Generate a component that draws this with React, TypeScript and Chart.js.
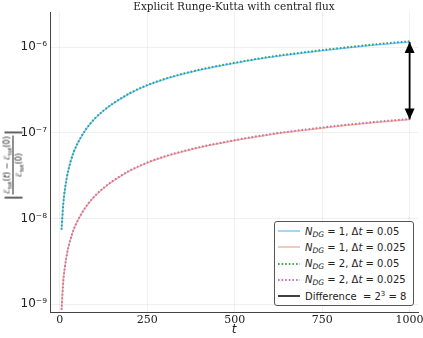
import React, { useEffect, useRef } from "react";
import { Chart, registerables } from "chart.js";

Chart.register(...registerables);

// ---- data ----
const tValues = [5, 10, 15, 20, 25, 30, 40, 50, 60, 75, 100, 125, 150, 200, 250, 300, 350, 400, 500, 600, 700, 800, 900, 1000];
const n1dt005 = [7.4e-9, 1.5e-8, 2.25e-8, 3.0e-8, 3.75e-8, 4.5e-8, 6.0e-8, 7.4e-8, 8.8e-8, 1.1e-7, 1.46e-7, 1.81e-7, 2.16e-7, 2.88e-7, 3.58e-7, 4.22e-7, 4.82e-7, 5.4e-7, 6.5e-7, 7.6e-7, 8.6e-7, 9.6e-7, 1.06e-6, 1.15e-6];
const n1dt0025 = [8.6e-10, 1.88e-9, 2.8e-9, 3.75e-9, 4.7e-9, 5.6e-9, 7.5e-9, 9.25e-9, 1.1e-8, 1.37e-8, 1.82e-8, 2.26e-8, 2.7e-8, 3.6e-8, 4.47e-8, 5.27e-8, 6.02e-8, 6.75e-8, 8.12e-8, 9.5e-8, 1.075e-7, 1.2e-7, 1.32e-7, 1.43e-7];
const n2dt005 = [7.4e-9, 1.5e-8, 2.25e-8, 3.0e-8, 3.76e-8, 4.51e-8, 6.02e-8, 7.43e-8, 8.84e-8, 1.105e-7, 1.467e-7, 1.82e-7, 2.17e-7, 2.9e-7, 3.61e-7, 4.26e-7, 4.87e-7, 5.46e-7, 6.58e-7, 7.7e-7, 8.72e-7, 9.75e-7, 1.076e-6, 1.17e-6];
const n2dt0025 = [8.6e-10, 1.88e-9, 2.8e-9, 3.76e-9, 4.71e-9, 5.62e-9, 7.52e-9, 9.28e-9, 1.105e-8, 1.38e-8, 1.83e-8, 2.28e-8, 2.72e-8, 3.63e-8, 4.51e-8, 5.32e-8, 6.08e-8, 6.82e-8, 8.22e-8, 9.62e-8, 1.09e-7, 1.217e-7, 1.34e-7, 1.45e-7];
const arrowT = [1000, 1000];
const arrowY = [1.15e-6, 1.43e-7];
const xTicks = [0, 250, 500, 750, 1000];
const yTicks = [1e-9, 1e-8, 1e-7, 1e-6];
const yTickLabels = ["10⁻⁹", "10⁻⁸", "10⁻⁷", "10⁻⁶"];

const C_BLUE = "rgba(0,154,250,0.5)";
const C_RED = "rgba(227,111,71,0.5)";
const C_GREEN = "#3ea44e";
const C_PURPLE = "#c271d2";

const pts = (ys: number[]) => tValues.map((t, i) => ({ x: t, y: ys[i] }));

const arrowPlugin = {
  id: "arrowHeads",
  afterDatasetsDraw(chart: any) {
    const meta = chart.getDatasetMeta(4);
    if (!meta || !meta.data || meta.data.length < 2) return;
    const p0 = meta.data[0];
    const p1 = meta.data[1];
    const ctx = chart.ctx;
    const hw = 5;
    const h = 11;
    ctx.save();
    ctx.fillStyle = "#000";
    ctx.beginPath();
    ctx.moveTo(p0.x, p0.y);
    ctx.lineTo(p0.x - hw, p0.y + h);
    ctx.lineTo(p0.x + hw, p0.y + h);
    ctx.closePath();
    ctx.fill();
    ctx.beginPath();
    ctx.moveTo(p1.x, p1.y);
    ctx.lineTo(p1.x - hw, p1.y - h);
    ctx.lineTo(p1.x + hw, p1.y - h);
    ctx.closePath();
    ctx.fill();
    ctx.restore();
  },
};

const Sub = ({ children, size }: { children: any; size: number }) => (
  <span style={{ fontSize: size, verticalAlign: "-0.3em", lineHeight: 0 }}>{children}</span>
);

const LegendRow = ({ color, dash, width, children }: any) => (
  <div style={{ display: "flex", alignItems: "center", height: 16.25 }}>
    <svg width={30} height={16} style={{ display: "block", flex: "none" }}>
      <line x1={3} y1={8} x2={25} y2={8} stroke={color} strokeWidth={width} strokeDasharray={dash} />
    </svg>
    <span style={{ whiteSpace: "pre" }}>{children}</span>
  </div>
);

const NLabel = ({ n, dt }: { n: string; dt: string }) => (
  <>
    <i>N</i>
    <Sub size={7.5}>
      <i>DG</i>
    </Sub>
    {" = " + n + ", Δ"}
    <i>t</i>
    {" = " + dt}
  </>
);

export default function App() {
  const ref = useRef<HTMLCanvasElement>(null);

  useEffect(() => {
    if (!ref.current) return;
    const chart = new Chart(ref.current, {
      type: "line",
      data: {
        datasets: [
          { label: "a", data: pts(n1dt005), borderColor: C_BLUE, borderWidth: 1.5, pointRadius: 0, fill: false, cubicInterpolationMode: "monotone" },
          { label: "b", data: pts(n1dt0025), borderColor: C_RED, borderWidth: 1.5, pointRadius: 0, fill: false, cubicInterpolationMode: "monotone" },
          { label: "c", data: pts(n2dt005), borderColor: C_GREEN, borderWidth: 2, borderDash: [1.6, 2], pointRadius: 0, fill: false, cubicInterpolationMode: "monotone" },
          { label: "d", data: pts(n2dt0025), borderColor: C_PURPLE, borderWidth: 2, borderDash: [1.6, 2], pointRadius: 0, fill: false, cubicInterpolationMode: "monotone" },
          { label: "e", data: arrowT.map((t, i) => ({ x: t, y: arrowY[i] })), borderColor: "#000", borderWidth: 1.8, pointRadius: 0, fill: false, clip: false as any },
        ] as any,
      },
      options: {
        animation: false,
        responsive: false,
        devicePixelRatio: 1,
        layout: { padding: { left: 0, top: 12, right: 5, bottom: 0 } },
        plugins: {
          legend: { display: false },
          title: { display: false },
          tooltip: { enabled: false },
        },
        scales: {
          x: {
            type: "linear",
            min: -28,
            max: 1024,
            afterBuildTicks: (s: any) => {
              s.ticks = xTicks.map((v) => ({ value: v }));
            },
            afterFit: (s: any) => {
              s.height = 26;
              s.paddingLeft = 0;
              s.paddingRight = 0;
            },
            ticks: {
              padding: 2,
              maxRotation: 0,
              color: "#222",
              font: { family: "DejaVu Serif", size: 11 },
              callback: (v: any) => String(v),
            },
            grid: { color: "rgba(0,0,0,0.06)", drawTicks: false },
            border: { display: true, color: "#444", width: 1 },
            title: {
              display: true,
              text: "t",
              color: "#222",
              font: { family: "DejaVu Sans", size: 12, style: "italic" },
              padding: { top: 0, bottom: 1 },
            },
          },
          y: {
            type: "logarithmic",
            min: Math.pow(10, -9.09),
            max: Math.pow(10, -5.59),
            afterBuildTicks: (s: any) => {
              s.ticks = yTicks.map((v) => ({ value: v }));
            },
            afterFit: (s: any) => {
              s.width = 50;
              s.paddingTop = 0;
              s.paddingBottom = 0;
            },
            ticks: {
              padding: 3,
              color: "#222",
              font: { family: "DejaVu Sans", size: 12 },
              callback: (v: any) => {
                const i = yTicks.findIndex((t) => Math.abs(t - v) / t < 1e-6);
                return i >= 0 ? yTickLabels[i] : "";
              },
            },
            grid: { color: "rgba(0,0,0,0.06)", drawTicks: false },
            border: { display: true, color: "#444", width: 1 },
          },
        },
      },
      plugins: [arrowPlugin],
    } as any);
    return () => chart.destroy();
  }, []);

  return (
    <div style={{ position: "absolute", left: 0, top: 0, width: 423, height: 338, background: "#fff", overflow: "hidden" }}>
      <canvas ref={ref} width={423} height={338} style={{ display: "block", width: 423, height: 338 }} />
      <div
        style={{
          position: "absolute",
          left: 50,
          top: -1,
          width: 368,
          textAlign: "center",
          fontFamily: "DejaVu Serif",
          fontSize: 10.5,
          lineHeight: "14px",
          color: "#222",
          whiteSpace: "nowrap",
        }}
      >
        Explicit Runge-Kutta with central flux
      </div>
      <div
        style={{
          position: "absolute",
          left: 13,
          top: 165,
          transform: "translate(-50%, -50%) rotate(-90deg)",
          display: "flex",
          alignItems: "center",
          fontFamily: "DejaVu Sans",
          fontSize: 8,
          color: "#222",
          whiteSpace: "nowrap",
        }}
      >
        <span style={{ fontSize: 17, lineHeight: "17px" }}>|</span>
        <span style={{ display: "inline-flex", flexDirection: "column", alignItems: "center", lineHeight: "9px" }}>
          <span style={{ borderBottom: "0.8px solid #222", padding: "0 1px 1px" }}>
            <i>ℰ</i>
            <Sub size={5.5}>tot</Sub>(<i>t</i>) − <i>ℰ</i>
            <Sub size={5.5}>tot</Sub>(0)
          </span>
          <span style={{ paddingTop: 1 }}>
            <i>ℰ</i>
            <Sub size={5.5}>tot</Sub>(0)
          </span>
        </span>
        <span style={{ fontSize: 17, lineHeight: "17px" }}>|</span>
      </div>
      <div
        style={{
          position: "absolute",
          left: 274,
          top: 221,
          width: 140,
          height: 85,
          boxSizing: "border-box",
          border: "1px solid #555",
          borderRadius: 3,
          background: "#fff",
          paddingTop: 1,
          fontFamily: "DejaVu Sans",
          fontSize: 10,
          color: "#222",
        }}
      >
        <LegendRow color={C_BLUE} width={1.5}>
          <NLabel n="1" dt="0.05" />
        </LegendRow>
        <LegendRow color={C_RED} width={1.5}>
          <NLabel n="1" dt="0.025" />
        </LegendRow>
        <LegendRow color={C_GREEN} width={2} dash="1.6 2">
          <NLabel n="2" dt="0.05" />
        </LegendRow>
        <LegendRow color={C_PURPLE} width={2} dash="1.6 2">
          <NLabel n="2" dt="0.025" />
        </LegendRow>
        <LegendRow color="#000" width={1.5}>
          {"Difference  = 2"}
          <sup style={{ fontSize: 7, lineHeight: 0 }}>3</sup>
          {" = 8"}
        </LegendRow>
      </div>
    </div>
  );
}
